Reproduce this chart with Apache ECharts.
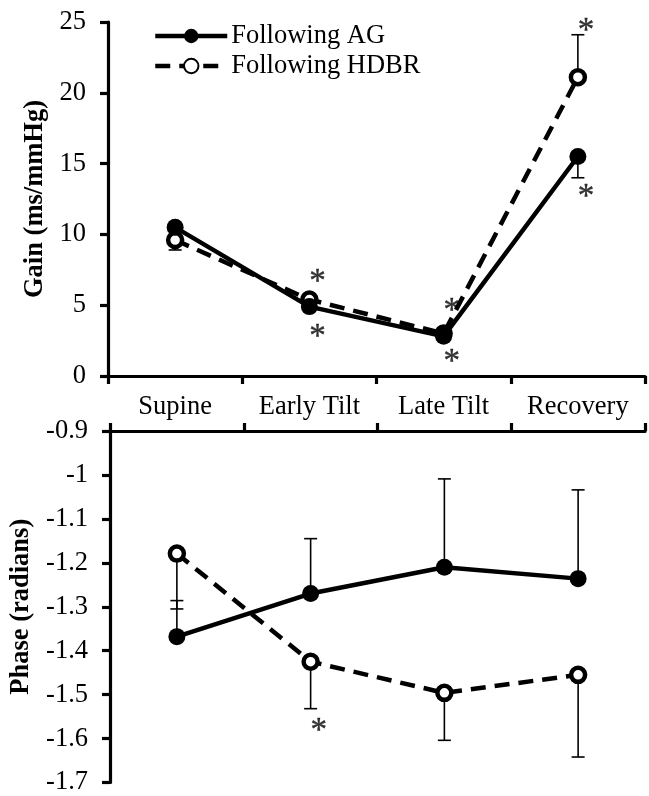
<!DOCTYPE html>
<html>
<head>
<meta charset="utf-8">
<script src="https://cdn.jsdelivr.net/npm/echarts@6/dist/echarts.min.js"></script>
<style>
html,body{margin:0;padding:0;background:#fff;}
#chart{width:649px;height:796px;}
</style>
</head>
<body>
<div id="chart"></div>
<script>
// ---- data ----
const categories = ['Supine', 'Early Tilt', 'Late Tilt', 'Recovery'];
const gainTicks = [0, 5, 10, 15, 20, 25];
const phaseTicks = [-1.7, -1.6, -1.5, -1.4, -1.3, -1.2, -1.1, -1, -0.9];

const gainAG = [10.5, 4.9, 2.8, 15.5];
const gainHDBR = [9.6, 5.4, 3.0, 21.1];
// [category index, mean, error end]
const gainErrAG = [[3, 15.5, 14.0]];
const gainErrHDBR = [[0, 9.6, 8.9], [3, 21.1, 24.1]];
const gainStars = [[1, 7.2], [1, 3.3], [2, 5.15], [2, 1.5], [3, 24.9], [3, 13.2]];

const phaseAG = [-1.368, -1.27, -1.21, -1.236];
const phaseHDBR = [-1.179, -1.425, -1.496, -1.455];
const phaseErrAG = [[0, -1.368, -1.286], [1, -1.27, -1.145], [2, -1.21, -1.009], [3, -1.236, -1.034]];
const phaseErrHDBR = [[0, -1.179, -1.305], [1, -1.425, -1.532], [2, -1.496, -1.604], [3, -1.455, -1.642]];
const phaseStars = [[1, -1.566]];

// ---- chart ----
const FONT = '"Liberation Serif", "DejaVu Serif", serif';
const FS = 26.5;
const chart = echarts.init(document.getElementById('chart'), null, {renderer: 'canvas'});

function errItem(params, api) {
  const x = api.value(0), a = api.value(1), b = api.value(2);
  const p1 = api.coord([x, a]);
  const p2 = api.coord([x, b]);
  const hw = 6.5;
  return {
    type: 'group',
    children: [
      {type: 'line', shape: {x1: p1[0], y1: p1[1], x2: p2[0], y2: p2[1]}, style: {stroke: '#000', lineWidth: 1.6}},
      {type: 'line', shape: {x1: p2[0] - hw, y1: p2[1], x2: p2[0] + hw, y2: p2[1]}, style: {stroke: '#000', lineWidth: 1.6}}
    ]
  };
}

const axisLine = {show: true, onZero: false, lineStyle: {color: '#000', width: 3.2}};
const axisTick = {show: true, length: 8, lineStyle: {color: '#000', width: 3.2}};
const labelStyle = {color: '#000', fontFamily: FONT, fontSize: FS};

function lineSeries(name, data, xi, dashed) {
  return {
    name: name,
    type: 'line',
    xAxisIndex: xi, yAxisIndex: xi,
    data: data,
    symbol: 'circle',
    symbolSize: dashed ? 14 : 17,
    showSymbol: true,
    z: dashed ? 4 : 5,
    lineStyle: {color: '#000', width: 4.5, type: dashed ? [15, 9] : 'solid'},
    itemStyle: dashed ? {color: '#fff', borderColor: '#000', borderWidth: 4.5} : {color: '#000', borderColor: '#000', borderWidth: 0},
    emphasis: {disabled: true},
    silent: true
  };
}
function errSeries(data, xi) {
  return {
    type: 'custom', xAxisIndex: xi, yAxisIndex: xi,
    renderItem: errItem, data: data, z: 2, silent: true,
    encode: {x: 0, y: [1, 2]}
  };
}
function starSeries(data, xi) {
  return {
    type: 'scatter', xAxisIndex: xi, yAxisIndex: xi, data: data,
    symbolSize: 1, itemStyle: {color: 'rgba(0,0,0,0)'}, silent: true, z: 6,
    label: {show: true, formatter: '*', position: 'inside', offset: [8, 8],
            color: '#000', fontFamily: FONT, fontSize: 33,
            textBorderColor: '#000', textBorderWidth: 0.4}
  };
}

const option = {
  animation: false,
  backgroundColor: '#fff',
  legend: {
    orient: 'vertical',
    left: 153, top: 21, padding: 0,
    itemWidth: 72, itemHeight: 18, itemGap: 0,
    data: ['Following AG', 'Following HDBR'],
    lineStyle: {width: 4.5},
    textStyle: {color: '#000', fontFamily: FONT, fontSize: FS, lineHeight: 30, padding: [0, 0, 0, -1]},
    selectedMode: false
  },
  grid: [
    {left: 108, right: 4, top: 22, bottom: 420},
    {left: 110, right: 4, top: 431, bottom: 10}
  ],
  xAxis: [
    {type: 'category', gridIndex: 0, data: categories, boundaryGap: true, position: 'bottom',
     axisLine: axisLine, axisTick: axisTick, splitLine: {show: false},
     axisLabel: Object.assign({margin: 18, interval: 0}, labelStyle)},
    {type: 'category', gridIndex: 1, data: categories, boundaryGap: true, position: 'top',
     axisLine: axisLine, axisTick: axisTick, splitLine: {show: false},
     axisLabel: {show: false}}
  ],
  yAxis: [
    {type: 'value', gridIndex: 0, min: gainTicks[0], max: gainTicks[gainTicks.length - 1], interval: 5,
     axisLine: axisLine, axisTick: axisTick, splitLine: {show: false},
     axisLabel: Object.assign({margin: 22}, labelStyle),
     name: 'Gain (ms/mmHg)', nameLocation: 'middle', nameGap: 53, nameRotate: 90,
     nameTextStyle: {color: '#000', fontFamily: FONT, fontSize: FS, fontWeight: 'bold'}},
    {type: 'value', gridIndex: 1, min: phaseTicks[0], max: phaseTicks[phaseTicks.length - 1], interval: 0.1,
     axisLine: axisLine, axisTick: axisTick, splitLine: {show: false},
     axisLabel: Object.assign({margin: 22, formatter: v => String(Math.round(v * 10) / 10)}, labelStyle),
     name: 'Phase (radians)', nameLocation: 'middle', nameGap: 59, nameRotate: 90,
     nameTextStyle: {color: '#000', fontFamily: FONT, fontSize: FS, fontWeight: 'bold'}}
  ],
  series: [
    errSeries(gainErrAG, 0),
    errSeries(gainErrHDBR, 0),
    lineSeries('Following HDBR', gainHDBR, 0, true),
    lineSeries('Following AG', gainAG, 0, false),
    starSeries(gainStars, 0),
    errSeries(phaseErrAG, 1),
    errSeries(phaseErrHDBR, 1),
    lineSeries('Following HDBR', phaseHDBR, 1, true),
    lineSeries('Following AG', phaseAG, 1, false),
    starSeries(phaseStars, 1)
  ]
};
chart.setOption(option);
</script>
</body>
</html>
